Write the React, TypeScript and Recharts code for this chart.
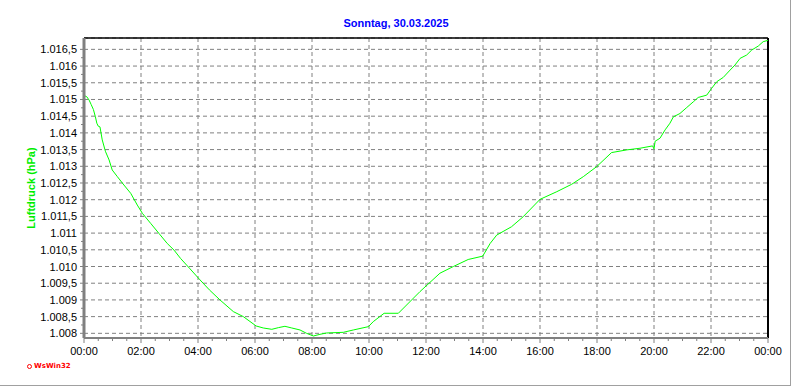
import { LineChart, Line, XAxis, YAxis, CartesianGrid, ReferenceLine } from 'recharts'

// time of day in hours
const hours = [
  0, 0.1, 0.18, 0.25, 0.33, 0.4, 0.45, 0.5, 0.56, 0.64, 0.75, 0.88, 0.99, 1.17, 1.4, 1.64,
  1.87, 2.05, 2.34, 2.63, 2.92, 3.16, 3.39, 3.7, 4.07, 4.4, 4.77, 5.24, 5.59, 6.04, 6.29,
  6.59, 6.82, 7.05, 7.29, 7.58, 7.81, 8.05, 8.28, 8.51, 9.1, 9.45, 9.98, 10.15, 10.53,
  11.03, 11.79, 12.49, 12.96, 13.48, 13.99, 14.25, 14.48, 15.0, 15.41, 16.0, 16.59, 17.11,
  17.52, 17.99, 18.51, 19.04, 19.51, 19.95, 20.0, 20.04, 20.21, 20.39, 20.56, 20.68, 20.91,
  21.15, 21.38, 21.55, 21.85, 22.02, 22.2, 22.43, 22.67, 22.84, 23.02, 23.25, 23.43, 23.66,
  23.83, 24,
]

// Luftdruck in hPa
const pressure = [
  1015.12, 1015.08, 1014.98, 1014.85, 1014.7, 1014.48, 1014.29, 1014.2, 1014.18, 1013.79,
  1013.45, 1013.19, 1012.89, 1012.69, 1012.44, 1012.19, 1011.84, 1011.59, 1011.29, 1010.99,
  1010.69, 1010.49, 1010.24, 1009.95, 1009.6, 1009.3, 1009.0, 1008.65, 1008.5, 1008.22,
  1008.16, 1008.12, 1008.17, 1008.21, 1008.16, 1008.1, 1008.0, 1007.92, 1007.97, 1008.01,
  1008.03, 1008.1, 1008.2, 1008.35, 1008.6, 1008.6, 1009.25, 1009.8, 1010.0, 1010.21,
  1010.31, 1010.69, 1010.94, 1011.19, 1011.49, 1012.01, 1012.24, 1012.46, 1012.69, 1012.99,
  1013.41, 1013.49, 1013.54, 1013.61, 1013.52, 1013.75, 1013.84, 1014.09, 1014.29, 1014.48,
  1014.58, 1014.76, 1014.93, 1015.06, 1015.13, 1015.33, 1015.53, 1015.66, 1015.88, 1016.03,
  1016.23, 1016.33, 1016.48, 1016.6, 1016.73, 1016.77,
]

const xTicks = [0, 2, 4, 6, 8, 10, 12, 14, 16, 18, 20, 22, 24]
const yTicks = [
  1008, 1008.5, 1009, 1009.5, 1010, 1010.5, 1011, 1011.5, 1012, 1012.5, 1013, 1013.5, 1014,
  1014.5, 1015, 1015.5, 1016, 1016.5,
]

const title = 'Sonntag, 30.03.2025'
const yLabel = 'Luftdruck (hPa)'

const W = 792
const H = 387
const PLOT_TOP = 38
const PLOT_LEFT = 84
const PLOT_RIGHT = 768
const PLOT_BOTTOM = 338
const Y_MIN = 1007.86
const Y_MAX = 1016.84
const FONT = '"Liberation Sans", Arial, sans-serif'

const data = hours.map((h, i) => ({ h, p: pressure[i] }))

const fmtHour = (h: number) => `${String(h % 24).padStart(2, '0')}:00`
const fmtHpa = (v: number) => {
  const whole = Math.floor(v)
  const s = `${Math.floor(whole / 1000)}.${String(whole % 1000).padStart(3, '0')}`
  return v - whole > 0 ? `${s},5` : s
}

const hourPx = (PLOT_RIGHT - PLOT_LEFT) / 24
const unitPx = (PLOT_BOTTOM - PLOT_TOP) / (Y_MAX - Y_MIN)

function XTick(props: any) {
  const { x, y, payload, index } = props
  const minor = index < xTicks.length - 1 ? [1, 2, 3] : []
  return (
    <g>
      <line x1={x} y1={y} x2={x} y2={y + 5} stroke="#808080" />
      {minor.map((k) => (
        <line key={k} x1={x + k * hourPx * 0.5} y1={y} x2={x + k * hourPx * 0.5} y2={y + 3} stroke="#808080" />
      ))}
      <text x={x} y={y + 17} textAnchor="middle" fontSize={11} fontFamily={FONT} fill="#000">
        {fmtHour(payload.value)}
      </text>
    </g>
  )
}

function YTick(props: any) {
  const { x, y, payload, index } = props
  const hasMinor = index < yTicks.length - 1
  return (
    <g>
      <line x1={x - 4} y1={y} x2={x} y2={y} stroke="#808080" />
      {hasMinor && <line x1={x - 3} y1={y - unitPx * 0.25} x2={x} y2={y - unitPx * 0.25} stroke="#808080" />}
      <text x={x - 7} y={y + 4} textAnchor="end" fontSize={11} fontFamily={FONT} fill="#000">
        {fmtHpa(payload.value)}
      </text>
    </g>
  )
}

function TopTick(props: any) {
  const { x, y, index } = props
  if (index === 0 || index === xTicks.length - 1) return <g />
  return <line x1={x} y1={y} x2={x} y2={y - 3} stroke="#808080" />
}

export default function App() {
  return (
    <div style={{ position: 'absolute', left: 0, top: 0, width: W, height: H, background: '#fff', fontFamily: FONT }}>
      <LineChart
        width={W}
        height={H}
        data={data}
        margin={{ top: PLOT_TOP, right: W - PLOT_RIGHT, bottom: 19, left: 0 }}
      >
        <CartesianGrid stroke="#808080" strokeDasharray="4 3" />
        <XAxis
          dataKey="h"
          type="number"
          domain={[0, 24]}
          ticks={xTicks}
          interval={0}
          height={30}
          tickSize={0}
          tickMargin={0}
          tickLine={false}
          axisLine={{ stroke: '#808080', strokeWidth: 2 }}
          tick={<XTick />}
        />
        <XAxis
          xAxisId="top"
          orientation="top"
          dataKey="h"
          type="number"
          domain={[0, 24]}
          ticks={xTicks}
          interval={0}
          height={0}
          tickSize={0}
          tickMargin={0}
          tickLine={false}
          axisLine={false}
          tick={<TopTick />}
        />
        <YAxis
          type="number"
          domain={[Y_MIN, Y_MAX]}
          ticks={yTicks}
          interval={0}
          width={PLOT_LEFT}
          allowDataOverflow
          tickSize={0}
          tickMargin={0}
          tickLine={false}
          axisLine={{ stroke: '#808080', strokeWidth: 3 }}
          tick={<YTick />}
        />
        <ReferenceLine y={Y_MAX} stroke="#000" strokeWidth={1.5} ifOverflow="extendDomain" />
        <ReferenceLine x={24} stroke="#000" strokeWidth={2} ifOverflow="extendDomain" />
        <Line
          dataKey="p"
          type="linear"
          stroke="#00ff00"
          strokeWidth={1}
          dot={false}
          isAnimationActive={false}
        />
      </LineChart>

      <div
        style={{
          position: 'absolute',
          left: 0,
          width: W,
          top: 16,
          textAlign: 'center',
          color: '#0000ff',
          fontWeight: 'bold',
          fontSize: 11,
          lineHeight: '14px',
        }}
      >
        {title}
      </div>

      <div
        style={{
          position: 'absolute',
          left: 31,
          top: 188,
          transform: 'translate(-50%, -50%) rotate(-90deg)',
          whiteSpace: 'nowrap',
          color: '#00ee00',
          fontWeight: 'bold',
          fontSize: 11,
          lineHeight: '14px',
        }}
      >
        {yLabel}
      </div>

      <div
        style={{
          position: 'absolute',
          left: 27,
          top: 362,
          color: '#ff0000',
          fontWeight: 'bold',
          fontSize: 7,
          lineHeight: '9px',
          fontFamily: '"DejaVu Sans", sans-serif',
          display: 'flex',
          alignItems: 'center',
          gap: 2,
        }}
      >
        <span style={{ width: 3, height: 3, border: '1px solid #ff0000', borderRadius: '50%' }} />
        WsWin32
      </div>

      <div style={{ position: 'absolute', left: 790, top: 0, width: 1, height: 386, background: '#a0a0a0' }} />
      <div style={{ position: 'absolute', left: 0, top: 385, width: 791, height: 1, background: '#a0a0a0' }} />
    </div>
  )
}
